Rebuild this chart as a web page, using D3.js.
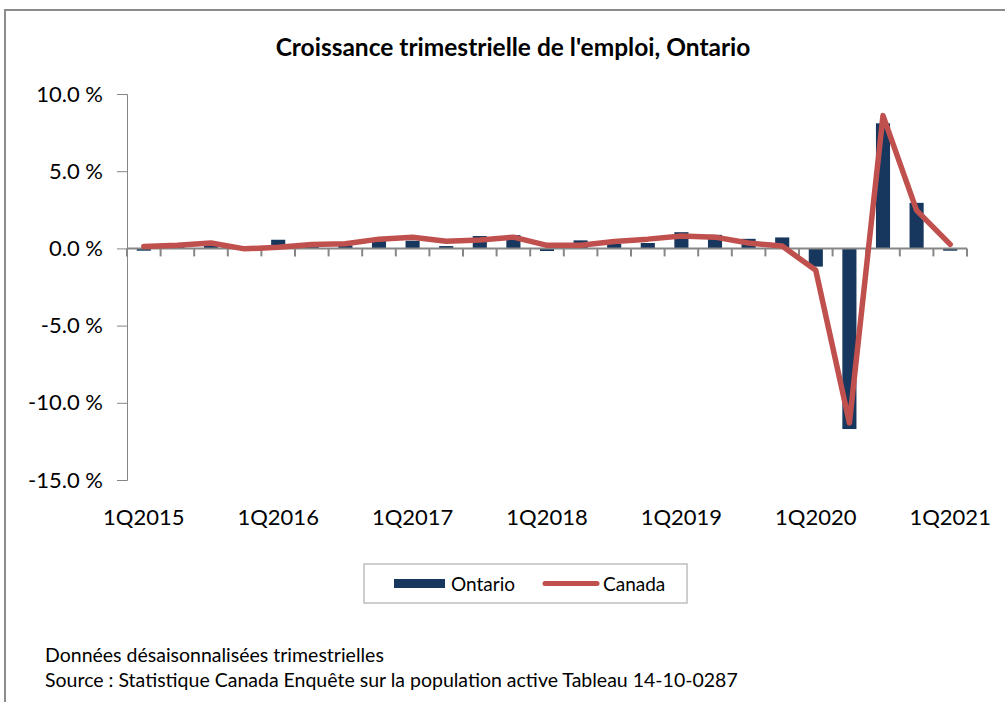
<!DOCTYPE html>
<html>
<head>
<meta charset="utf-8">
<script src="https://cdn.jsdelivr.net/npm/d3@7"></script>
<style>
    body { margin: 0; background: #fff; }
    svg { font-family: Lato, "Open Sans", sans-serif; }
    .axis path, .axis line { stroke: #868686; }
    .axis text { fill: #000; }
</style>
</head>
<body>
<svg id="svg"></svg>
<script>
const quarters = [
    '1Q2015', '2Q2015', '3Q2015', '4Q2015',
    '1Q2016', '2Q2016', '3Q2016', '4Q2016',
    '1Q2017', '2Q2017', '3Q2017', '4Q2017',
    '1Q2018', '2Q2018', '3Q2018', '4Q2018',
    '1Q2019', '2Q2019', '3Q2019', '4Q2019',
    '1Q2020', '2Q2020', '3Q2020', '4Q2020',
    '1Q2021'
];
const tickLabels = ['1Q2015', '1Q2016', '1Q2017', '1Q2018', '1Q2019', '1Q2020', '1Q2021'];
const yTicks = [10, 5, 0, -5, -10, -15];

// croissance trimestrielle (%)
const ontario = [
    -0.15, 0.1, 0.3, 0.0,
    0.56, 0.2, 0.2, 0.5,
    0.5, 0.15, 0.8, 0.86,
    -0.17, 0.52, 0.3, 0.35,
    1.05, 0.88, 0.62, 0.71,
    -1.18, -11.7, 8.1, 2.95,
    -0.15
];
const canada = [
    0.13, 0.2, 0.35, -0.03,
    0.08, 0.26, 0.3, 0.6,
    0.72, 0.47, 0.55, 0.73,
    0.2, 0.2, 0.45, 0.6,
    0.8, 0.73, 0.35, 0.15,
    -1.42, -11.3, 8.6, 2.46,
    0.26
];

const W = 1005, H = 702;
const margin = {top: 94, left: 127, right: 38, bottom: 222};
const width = W - margin.left - margin.right;
const height = H - margin.top - margin.bottom;

const svg = d3.select('#svg')
    .attr('width', W)
    .attr('height', H);

// cadre du graphique
svg.append('path')
    .attr('d', 'M5,' + (H + 5) + 'V10H' + (W + 5))
    .attr('fill', 'none')
    .attr('stroke', '#8c8c8c')
    .attr('stroke-width', 2);

svg.append('text')
    .attr('x', 513)
    .attr('y', 56)
    .attr('text-anchor', 'middle')
    .attr('font-weight', 'bold')
    .attr('font-size', 24.5)
    .text("Croissance trimestrielle de l'emploi, Ontario");

const g = svg.append('g')
    .attr('transform', 'translate(' + margin.left + ',' + margin.top + ')');

const xScale = d3.scaleBand()
    .domain(quarters)
    .range([0, width]);

const yScale = d3.scaleLinear()
    .domain([-15, 10])
    .range([height, 0]);

const yAxis = d3.axisLeft(yScale)
    .tickValues(yTicks)
    .tickSize(10)
    .tickPadding(14)
    .tickFormat(d => d.toFixed(1) + ' %');

g.append('g')
    .attr('class', 'axis axis-y')
    .call(yAxis)
    .call(a => a.select('.domain').attr('d', 'M-10,0.5H0.5V' + (height + 0.5) + 'H-10'))
    .selectAll('text')
    .attr('font-size', 22)
    .attr('font-family', 'Lato, sans-serif');

// barres Ontario
const barW = xScale.bandwidth() * 0.42;
g.append('g')
    .selectAll('rect')
    .data(ontario)
    .join('rect')
    .attr('x', (d, i) => xScale(quarters[i]) + (xScale.bandwidth() - barW) / 2)
    .attr('width', barW)
    .attr('y', d => yScale(Math.max(0, d)))
    .attr('height', d => Math.abs(yScale(d) - yScale(0)))
    .attr('fill', '#17375e');

// axe des x au zéro
const xAxisG = g.append('g')
    .attr('class', 'axis axis-x')
    .attr('transform', 'translate(0,' + yScale(0) + ')');

xAxisG.append('line')
    .attr('x1', 0)
    .attr('x2', width)
    .attr('stroke-width', 2);

xAxisG.selectAll('.tick')
    .data(d3.range(quarters.length + 1))
    .join('line')
    .attr('class', 'tick')
    .attr('x1', i => i * xScale.step())
    .attr('x2', i => i * xScale.step())
    .attr('y1', 0)
    .attr('y2', 8)
    .attr('stroke-width', 2);

g.append('g')
    .selectAll('text')
    .data(tickLabels)
    .join('text')
    .attr('x', d => xScale(d) + xScale.bandwidth() / 2)
    .attr('y', height + 45)
    .attr('text-anchor', 'middle')
    .attr('font-size', 22)
    .text(d => d);

// ligne Canada
const line = d3.line()
    .x((d, i) => xScale(quarters[i]) + xScale.bandwidth() / 2)
    .y(d => yScale(d));

g.append('path')
    .datum(canada)
    .attr('d', line)
    .attr('fill', 'none')
    .attr('stroke', '#c0504d')
    .attr('stroke-width', 5.5)
    .attr('stroke-linejoin', 'round')
    .attr('stroke-linecap', 'round');

// légende
const legend = svg.append('g')
    .attr('transform', 'translate(364,564)');

legend.append('rect')
    .attr('width', 323)
    .attr('height', 39)
    .attr('fill', '#fff')
    .attr('stroke', '#bfbfbf')
    .attr('stroke-width', 1.5);

legend.append('rect')
    .attr('x', 30)
    .attr('y', 15)
    .attr('width', 51)
    .attr('height', 9)
    .attr('fill', '#17375e');

legend.append('text')
    .attr('x', 87)
    .attr('y', 27)
    .attr('font-size', 19)
    .text('Ontario');

legend.append('line')
    .attr('x1', 181)
    .attr('x2', 233)
    .attr('y1', 19.5)
    .attr('y2', 19.5)
    .attr('stroke', '#c0504d')
    .attr('stroke-width', 5)
    .attr('stroke-linecap', 'round');

legend.append('text')
    .attr('x', 239)
    .attr('y', 27)
    .attr('font-size', 19)
    .text('Canada');

// notes
svg.append('text')
    .attr('x', 45)
    .attr('y', 662)
    .attr('font-size', 19.5)
    .text('Données désaisonnalisées trimestrielles');

svg.append('text')
    .attr('x', 45)
    .attr('y', 687)
    .attr('font-size', 19.5)
    .text('Source : Statistique Canada Enquête sur la population active Tableau 14-10-0287');
</script>
</body>
</html>
